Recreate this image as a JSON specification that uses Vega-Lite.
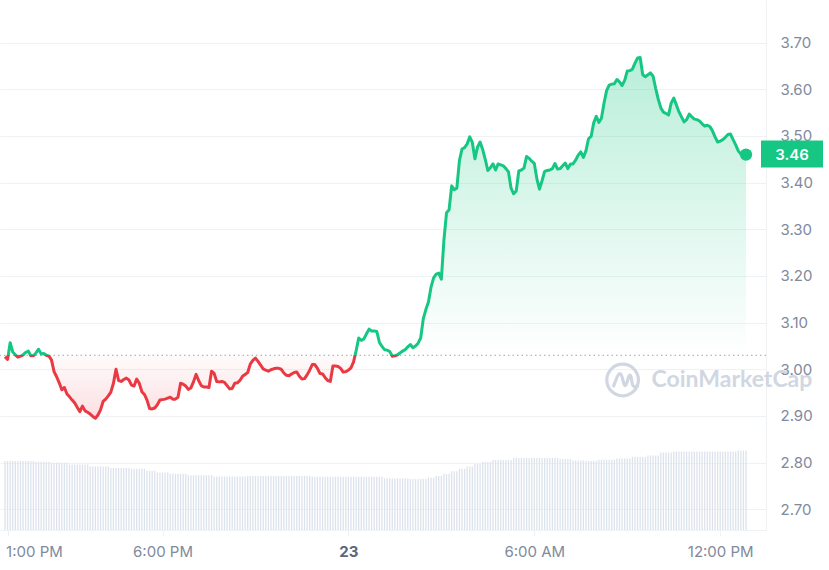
{
"$schema":"https://vega.github.io/schema/vega-lite/v6.json",
"width":766,"height":530,"padding":{"left":0,"top":0,"right":63,"bottom":40},"autosize":{"type":"none"},
"background":"#ffffff",
"config":{"view":{"stroke":null},"font":"Inter"},
"datasets":{"d":[
{"t":"2024-01-22T12:55","p":3.027,"v":260},{"t":"2024-01-22T13:00","p":3.021,"v":260},{"t":"2024-01-22T13:05","p":3.057,"v":260},{"t":"2024-01-22T13:10","p":3.037,"v":260},{"t":"2024-01-22T13:15","p":3.031,"v":260},{"t":"2024-01-22T13:20","p":3.026,"v":260},{"t":"2024-01-22T13:25","p":3.028,"v":260},{"t":"2024-01-22T13:30","p":3.031,"v":260},{"t":"2024-01-22T13:35","p":3.036,"v":260},{"t":"2024-01-22T13:40","p":3.039,"v":260},{"t":"2024-01-22T13:45","p":3.029,"v":260},{"t":"2024-01-22T13:50","p":3.029,"v":260},
{"t":"2024-01-22T13:55","p":3.035,"v":258},{"t":"2024-01-22T14:00","p":3.043,"v":258},{"t":"2024-01-22T14:05","p":3.033,"v":258},{"t":"2024-01-22T14:10","p":3.034,"v":258},{"t":"2024-01-22T14:15","p":3.030,"v":258},{"t":"2024-01-22T14:20","p":3.028,"v":258},
{"t":"2024-01-22T14:25","p":3.020,"v":254},{"t":"2024-01-22T14:30","p":2.995,"v":254},{"t":"2024-01-22T14:35","p":2.984,"v":254},{"t":"2024-01-22T14:40","p":2.971,"v":254},{"t":"2024-01-22T14:45","p":2.956,"v":254},{"t":"2024-01-22T14:50","p":2.961,"v":254},{"t":"2024-01-22T14:55","p":2.947,"v":254},
{"t":"2024-01-22T15:00","p":2.941,"v":247},{"t":"2024-01-22T15:05","p":2.934,"v":247},{"t":"2024-01-22T15:10","p":2.928,"v":247},{"t":"2024-01-22T15:15","p":2.918,"v":247},{"t":"2024-01-22T15:20","p":2.909,"v":247},{"t":"2024-01-22T15:25","p":2.921,"v":247},{"t":"2024-01-22T15:30","p":2.911,"v":247},{"t":"2024-01-22T15:35","p":2.908,"v":247},
{"t":"2024-01-22T15:40","p":2.904,"v":240},{"t":"2024-01-22T15:45","p":2.899,"v":240},{"t":"2024-01-22T15:50","p":2.895,"v":240},{"t":"2024-01-22T15:55","p":2.902,"v":240},{"t":"2024-01-22T16:00","p":2.913,"v":240},{"t":"2024-01-22T16:05","p":2.931,"v":240},{"t":"2024-01-22T16:10","p":2.936,"v":240},{"t":"2024-01-22T16:15","p":2.943,"v":240},
{"t":"2024-01-22T16:20","p":2.951,"v":234},{"t":"2024-01-22T16:25","p":2.970,"v":234},{"t":"2024-01-22T16:30","p":3.000,"v":234},{"t":"2024-01-22T16:35","p":2.976,"v":234},{"t":"2024-01-22T16:40","p":2.974,"v":234},{"t":"2024-01-22T16:45","p":2.978,"v":234},{"t":"2024-01-22T16:50","p":2.981,"v":234},{"t":"2024-01-22T16:55","p":2.977,"v":234},
{"t":"2024-01-22T17:00","p":2.966,"v":231},{"t":"2024-01-22T17:05","p":2.964,"v":231},{"t":"2024-01-22T17:10","p":2.979,"v":231},{"t":"2024-01-22T17:15","p":2.970,"v":231},{"t":"2024-01-22T17:20","p":2.952,"v":231},{"t":"2024-01-22T17:25","p":2.946,"v":231},
{"t":"2024-01-22T17:30","p":2.934,"v":224},{"t":"2024-01-22T17:35","p":2.916,"v":224},{"t":"2024-01-22T17:40","p":2.915,"v":224},{"t":"2024-01-22T17:45","p":2.917,"v":224},
{"t":"2024-01-22T17:50","p":2.924,"v":217},{"t":"2024-01-22T17:55","p":2.934,"v":217},{"t":"2024-01-22T18:00","p":2.935,"v":217},{"t":"2024-01-22T18:05","p":2.936,"v":217},{"t":"2024-01-22T18:10","p":2.938,"v":217},
{"t":"2024-01-22T18:15","p":2.940,"v":212},{"t":"2024-01-22T18:20","p":2.936,"v":212},{"t":"2024-01-22T18:25","p":2.936,"v":212},{"t":"2024-01-22T18:30","p":2.940,"v":212},{"t":"2024-01-22T18:35","p":2.970,"v":212},{"t":"2024-01-22T18:40","p":2.968,"v":212},{"t":"2024-01-22T18:45","p":2.964,"v":212},
{"t":"2024-01-22T18:50","p":2.957,"v":207},{"t":"2024-01-22T18:55","p":2.960,"v":207},{"t":"2024-01-22T19:00","p":2.973,"v":207},{"t":"2024-01-22T19:05","p":2.989,"v":207},{"t":"2024-01-22T19:10","p":2.976,"v":207},{"t":"2024-01-22T19:15","p":2.965,"v":207},{"t":"2024-01-22T19:20","p":2.962,"v":207},{"t":"2024-01-22T19:25","p":2.962,"v":207},{"t":"2024-01-22T19:30","p":2.961,"v":207},{"t":"2024-01-22T19:35","p":2.996,"v":207},
{"t":"2024-01-22T19:40","p":2.991,"v":202},{"t":"2024-01-22T19:45","p":2.974,"v":202},{"t":"2024-01-22T19:50","p":2.973,"v":202},{"t":"2024-01-22T19:55","p":2.974,"v":202},{"t":"2024-01-22T20:00","p":2.972,"v":202},{"t":"2024-01-22T20:05","p":2.965,"v":202},{"t":"2024-01-22T20:10","p":2.958,"v":202},{"t":"2024-01-22T20:15","p":2.959,"v":202},{"t":"2024-01-22T20:20","p":2.970,"v":202},{"t":"2024-01-22T20:25","p":2.971,"v":202},{"t":"2024-01-22T20:30","p":2.976,"v":202},{"t":"2024-01-22T20:35","p":2.985,"v":202},{"t":"2024-01-22T20:40","p":2.989,"v":202},
{"t":"2024-01-22T20:45","p":2.993,"v":204},{"t":"2024-01-22T20:50","p":3.011,"v":204},{"t":"2024-01-22T20:55","p":3.019,"v":204},{"t":"2024-01-22T21:00","p":3.024,"v":204},{"t":"2024-01-22T21:05","p":3.017,"v":204},{"t":"2024-01-22T21:10","p":3.009,"v":204},{"t":"2024-01-22T21:15","p":3.001,"v":204},{"t":"2024-01-22T21:20","p":2.998,"v":204},{"t":"2024-01-22T21:25","p":2.996,"v":204},{"t":"2024-01-22T21:30","p":2.999,"v":204},{"t":"2024-01-22T21:35","p":3.001,"v":204},{"t":"2024-01-22T21:40","p":3.002,"v":204},{"t":"2024-01-22T21:45","p":3.002,"v":204},{"t":"2024-01-22T21:50","p":3.000,"v":204},{"t":"2024-01-22T21:55","p":2.992,"v":204},{"t":"2024-01-22T22:00","p":2.987,"v":204},{"t":"2024-01-22T22:05","p":2.986,"v":204},{"t":"2024-01-22T22:10","p":2.990,"v":204},{"t":"2024-01-22T22:15","p":2.993,"v":204},{"t":"2024-01-22T22:20","p":2.994,"v":204},{"t":"2024-01-22T22:25","p":2.985,"v":204},{"t":"2024-01-22T22:30","p":2.979,"v":204},{"t":"2024-01-22T22:35","p":2.980,"v":204},{"t":"2024-01-22T22:40","p":2.988,"v":204},{"t":"2024-01-22T22:45","p":2.998,"v":204},
{"t":"2024-01-22T22:50","p":3.010,"v":201},{"t":"2024-01-22T22:55","p":3.010,"v":201},{"t":"2024-01-22T23:00","p":3.002,"v":201},{"t":"2024-01-22T23:05","p":2.991,"v":201},{"t":"2024-01-22T23:10","p":2.990,"v":201},{"t":"2024-01-22T23:15","p":2.982,"v":201},{"t":"2024-01-22T23:20","p":2.976,"v":201},{"t":"2024-01-22T23:25","p":2.974,"v":201},{"t":"2024-01-22T23:30","p":3.007,"v":201},{"t":"2024-01-22T23:35","p":3.007,"v":201},{"t":"2024-01-22T23:40","p":3.006,"v":201},{"t":"2024-01-22T23:45","p":3.002,"v":201},{"t":"2024-01-22T23:50","p":2.994,"v":201},{"t":"2024-01-22T23:55","p":2.995,"v":201},
{"t":"2024-01-23T00:00","p":2.998,"v":201},{"t":"2024-01-23T00:05","p":3.003,"v":201},{"t":"2024-01-23T00:10","p":3.016,"v":201},{"t":"2024-01-23T00:15","p":3.040,"v":201},{"t":"2024-01-23T00:20","p":3.067,"v":201},{"t":"2024-01-23T00:25","p":3.062,"v":201},{"t":"2024-01-23T00:30","p":3.065,"v":201},{"t":"2024-01-23T00:35","p":3.076,"v":201},{"t":"2024-01-23T00:40","p":3.086,"v":201},{"t":"2024-01-23T00:45","p":3.082,"v":201},{"t":"2024-01-23T00:50","p":3.082,"v":201},{"t":"2024-01-23T00:55","p":3.081,"v":201},{"t":"2024-01-23T01:00","p":3.058,"v":201},{"t":"2024-01-23T01:05","p":3.049,"v":201},
{"t":"2024-01-23T01:10","p":3.042,"v":195},{"t":"2024-01-23T01:15","p":3.041,"v":195},{"t":"2024-01-23T01:20","p":3.038,"v":195},{"t":"2024-01-23T01:25","p":3.028,"v":195},{"t":"2024-01-23T01:30","p":3.029,"v":195},{"t":"2024-01-23T01:35","p":3.031,"v":195},{"t":"2024-01-23T01:40","p":3.035,"v":195},{"t":"2024-01-23T01:45","p":3.039,"v":195},{"t":"2024-01-23T01:50","p":3.042,"v":195},{"t":"2024-01-23T01:55","p":3.048,"v":195},
{"t":"2024-01-23T02:00","p":3.053,"v":192},{"t":"2024-01-23T02:05","p":3.046,"v":192},{"t":"2024-01-23T02:10","p":3.050,"v":192},{"t":"2024-01-23T02:15","p":3.056,"v":192},{"t":"2024-01-23T02:20","p":3.067,"v":192},{"t":"2024-01-23T02:25","p":3.108,"v":192},{"t":"2024-01-23T02:30","p":3.128,"v":192},
{"t":"2024-01-23T02:35","p":3.144,"v":197},{"t":"2024-01-23T02:40","p":3.176,"v":197},{"t":"2024-01-23T02:45","p":3.196,"v":197},
{"t":"2024-01-23T02:50","p":3.204,"v":204},{"t":"2024-01-23T02:55","p":3.206,"v":204},{"t":"2024-01-23T03:00","p":3.193,"v":204},
{"t":"2024-01-23T03:05","p":3.277,"v":212},{"t":"2024-01-23T03:10","p":3.335,"v":212},{"t":"2024-01-23T03:15","p":3.342,"v":212},
{"t":"2024-01-23T03:20","p":3.393,"v":222},{"t":"2024-01-23T03:25","p":3.385,"v":222},{"t":"2024-01-23T03:30","p":3.388,"v":222},
{"t":"2024-01-23T03:35","p":3.447,"v":231},{"t":"2024-01-23T03:40","p":3.472,"v":231},{"t":"2024-01-23T03:45","p":3.475,"v":231},
{"t":"2024-01-23T03:50","p":3.483,"v":240},{"t":"2024-01-23T03:55","p":3.498,"v":240},{"t":"2024-01-23T04:00","p":3.486,"v":240},
{"t":"2024-01-23T04:05","p":3.451,"v":249},{"t":"2024-01-23T04:10","p":3.476,"v":249},{"t":"2024-01-23T04:15","p":3.487,"v":249},
{"t":"2024-01-23T04:20","p":3.471,"v":257},{"t":"2024-01-23T04:25","p":3.450,"v":257},{"t":"2024-01-23T04:30","p":3.426,"v":257},{"t":"2024-01-23T04:35","p":3.432,"v":257},
{"t":"2024-01-23T04:40","p":3.440,"v":264},{"t":"2024-01-23T04:45","p":3.427,"v":264},{"t":"2024-01-23T04:50","p":3.440,"v":264},{"t":"2024-01-23T04:55","p":3.438,"v":264},{"t":"2024-01-23T05:00","p":3.436,"v":264},{"t":"2024-01-23T05:05","p":3.430,"v":264},{"t":"2024-01-23T05:10","p":3.423,"v":264},{"t":"2024-01-23T05:15","p":3.388,"v":264},
{"t":"2024-01-23T05:20","p":3.376,"v":272},{"t":"2024-01-23T05:25","p":3.382,"v":272},{"t":"2024-01-23T05:30","p":3.425,"v":272},{"t":"2024-01-23T05:35","p":3.427,"v":272},{"t":"2024-01-23T05:40","p":3.431,"v":272},{"t":"2024-01-23T05:45","p":3.456,"v":272},{"t":"2024-01-23T05:50","p":3.452,"v":272},{"t":"2024-01-23T05:55","p":3.446,"v":272},{"t":"2024-01-23T06:00","p":3.441,"v":272},{"t":"2024-01-23T06:05","p":3.408,"v":272},{"t":"2024-01-23T06:10","p":3.386,"v":272},{"t":"2024-01-23T06:15","p":3.404,"v":272},{"t":"2024-01-23T06:20","p":3.424,"v":272},{"t":"2024-01-23T06:25","p":3.426,"v":272},{"t":"2024-01-23T06:30","p":3.427,"v":272},{"t":"2024-01-23T06:35","p":3.430,"v":272},{"t":"2024-01-23T06:40","p":3.441,"v":272},{"t":"2024-01-23T06:45","p":3.429,"v":272},
{"t":"2024-01-23T06:50","p":3.430,"v":268},{"t":"2024-01-23T06:55","p":3.436,"v":268},{"t":"2024-01-23T07:00","p":3.442,"v":268},{"t":"2024-01-23T07:05","p":3.430,"v":268},{"t":"2024-01-23T07:10","p":3.440,"v":268},
{"t":"2024-01-23T07:15","p":3.440,"v":262},{"t":"2024-01-23T07:20","p":3.448,"v":262},{"t":"2024-01-23T07:25","p":3.459,"v":262},{"t":"2024-01-23T07:30","p":3.466,"v":262},{"t":"2024-01-23T07:35","p":3.454,"v":262},
{"t":"2024-01-23T07:40","p":3.468,"v":260},{"t":"2024-01-23T07:45","p":3.494,"v":260},{"t":"2024-01-23T07:50","p":3.499,"v":260},{"t":"2024-01-23T07:55","p":3.528,"v":260},{"t":"2024-01-23T08:00","p":3.542,"v":260},
{"t":"2024-01-23T08:05","p":3.529,"v":265},{"t":"2024-01-23T08:10","p":3.538,"v":265},{"t":"2024-01-23T08:15","p":3.570,"v":265},{"t":"2024-01-23T08:20","p":3.597,"v":265},{"t":"2024-01-23T08:25","p":3.609,"v":265},{"t":"2024-01-23T08:30","p":3.611,"v":265},{"t":"2024-01-23T08:35","p":3.612,"v":265},
{"t":"2024-01-23T08:40","p":3.621,"v":270},{"t":"2024-01-23T08:45","p":3.616,"v":270},{"t":"2024-01-23T08:50","p":3.608,"v":270},{"t":"2024-01-23T08:55","p":3.619,"v":270},{"t":"2024-01-23T09:00","p":3.639,"v":270},{"t":"2024-01-23T09:05","p":3.640,"v":270},
{"t":"2024-01-23T09:10","p":3.643,"v":276},{"t":"2024-01-23T09:15","p":3.656,"v":276},{"t":"2024-01-23T09:20","p":3.667,"v":276},{"t":"2024-01-23T09:25","p":3.668,"v":276},{"t":"2024-01-23T09:30","p":3.631,"v":276},{"t":"2024-01-23T09:35","p":3.627,"v":276},
{"t":"2024-01-23T09:40","p":3.631,"v":281},{"t":"2024-01-23T09:45","p":3.635,"v":281},{"t":"2024-01-23T09:50","p":3.628,"v":281},{"t":"2024-01-23T09:55","p":3.602,"v":281},{"t":"2024-01-23T10:00","p":3.579,"v":281},
{"t":"2024-01-23T10:05","p":3.560,"v":292},{"t":"2024-01-23T10:10","p":3.551,"v":292},{"t":"2024-01-23T10:15","p":3.548,"v":292},{"t":"2024-01-23T10:20","p":3.545,"v":292},{"t":"2024-01-23T10:25","p":3.570,"v":292},
{"t":"2024-01-23T10:30","p":3.581,"v":296},{"t":"2024-01-23T10:35","p":3.567,"v":296},{"t":"2024-01-23T10:40","p":3.552,"v":296},{"t":"2024-01-23T10:45","p":3.541,"v":296},{"t":"2024-01-23T10:50","p":3.530,"v":296},{"t":"2024-01-23T10:55","p":3.535,"v":296},{"t":"2024-01-23T11:00","p":3.547,"v":296},{"t":"2024-01-23T11:05","p":3.541,"v":296},{"t":"2024-01-23T11:10","p":3.536,"v":296},{"t":"2024-01-23T11:15","p":3.535,"v":296},{"t":"2024-01-23T11:20","p":3.532,"v":296},{"t":"2024-01-23T11:25","p":3.526,"v":296},{"t":"2024-01-23T11:30","p":3.521,"v":296},{"t":"2024-01-23T11:35","p":3.523,"v":296},{"t":"2024-01-23T11:40","p":3.520,"v":296},{"t":"2024-01-23T11:45","p":3.511,"v":296},{"t":"2024-01-23T11:50","p":3.498,"v":296},{"t":"2024-01-23T11:55","p":3.487,"v":296},{"t":"2024-01-23T12:00","p":3.489,"v":296},{"t":"2024-01-23T12:05","p":3.492,"v":296},{"t":"2024-01-23T12:10","p":3.497,"v":296},{"t":"2024-01-23T12:15","p":3.503,"v":296},{"t":"2024-01-23T12:20","p":3.504,"v":296},{"t":"2024-01-23T12:25","p":3.492,"v":296},{"t":"2024-01-23T12:30","p":3.481,"v":296},
{"t":"2024-01-23T12:35","p":3.468,"v":300},{"t":"2024-01-23T12:40","p":3.461,"v":300},{"t":"2024-01-23T12:45","p":3.462,"v":300},{"t":"2024-01-23T12:50","p":3.460,"v":300}
],
"last":[{"t":"2024-01-23T12:50","p":3.46,"label":"3.46"}],
"mark":[{"t":"2024-01-23T08:51","t2":"2024-01-23T09:47","p":2.977,"name":"CoinMarketCap"}]
},
"layer":[
{"data":{"name":"d"},
 "mark":{"type":"bar","width":1.3,"color":"#dde3ec"},
 "encoding":{
  "x":{"field":"t","type":"temporal","title":null,
   "scale":{"domain":[{"year":2024,"month":1,"date":22,"hours":12,"minutes":55},{"year":2024,"month":1,"date":23,"hours":13,"minutes":19}]},
   "axis":{"values":[{"year":2024,"month":1,"date":22,"hours":13},{"year":2024,"month":1,"date":22,"hours":18},{"year":2024,"month":1,"date":23,"hours":0},{"year":2024,"month":1,"date":23,"hours":6},{"year":2024,"month":1,"date":23,"hours":12}],
    "labelExpr":"hours(datum.value) == 0 ? timeFormat(datum.value, '%-d') : timeFormat(datum.value, '%-I:%M %p')",
    "labelAlign":{"condition":{"test":"hours(datum.value) == 13","value":"left"},"value":"center"},
    "labelOffset":{"condition":{"test":"hours(datum.value) == 13","value":-2},"value":0},
    "grid":false,"domain":true,"domainColor":"#eff2f5","ticks":true,"tickColor":"#eff2f5","tickSize":6,
    "labelFont":"Inter","labelFontSize":15,"labelPadding":8,
    "labelColor":{"condition":{"test":"hours(datum.value) == 0","value":"#58667e"},"value":"#808a9d"},
    "labelFontWeight":{"condition":{"test":"hours(datum.value) == 0","value":700},"value":400}}},
  "y":{"field":"v","type":"quantitative","scale":{"domain":[0,2000]},"axis":null}}},
{"layer":[
 {"data":{"name":"d"},
  "mark":{"type":"area","fill":{"gradient":"linear","x1":0,"y1":0,"x2":0,"y2":1,"stops":[{"offset":0,"color":"rgba(22,199,132,0.30)"},{"offset":0.8254,"color":"rgba(22,199,132,0.0)"},{"offset":0.8254,"color":"rgba(234,57,67,0.02)"},{"offset":1,"color":"rgba(234,57,67,0.16)"}]}},
  "encoding":{
   "x":{"field":"t","type":"temporal"},
   "y":{"field":"p","type":"quantitative","title":null,"scale":{"domain":[2.6556,3.7913],"nice":false,"zero":false},
    "axis":{"orient":"right","values":[2.7,2.8,2.9,3.0,3.1,3.2,3.3,3.4,3.5,3.6,3.7],"format":".2f","grid":true,"gridColor":"#eff2f5","ticks":false,"domain":true,"domainColor":"#eff2f5","labelPadding":14,"labelFont":"Inter","labelFontSize":15,"labelColor":"#808a9d"}},
   "y2":{"datum":3.03}}},
 {"data":{"values":[{}]},
  "mark":{"type":"rule","strokeDash":[1.5,3],"color":"#9aa3b2","strokeWidth":1},
  "encoding":{"y":{"datum":3.03}}},
 {"data":{"name":"d"},
  "mark":{"type":"line","strokeWidth":3,"strokeJoin":"round","stroke":{"gradient":"linear","x1":0,"y1":0,"x2":0,"y2":1,"stops":[{"offset":0,"color":"#16c784"},{"offset":0.8254,"color":"#16c784"},{"offset":0.8254,"color":"#ea3943"},{"offset":1,"color":"#ea3943"}]}},
  "encoding":{"x":{"field":"t","type":"temporal"},"y":{"field":"p","type":"quantitative"}}},
 {"data":{"name":"last"},
  "mark":{"type":"point","filled":true,"color":"#16c784","size":150,"opacity":1},
  "encoding":{"x":{"field":"t","type":"temporal"},"y":{"field":"p","type":"quantitative"}}},
 {"data":{"name":"last"},
  "mark":{"type":"rect","color":"#16c784","x2Offset":62,"yOffset":-14,"y2Offset":13},
  "encoding":{"x":{"datum":{"year":2024,"month":1,"date":23,"hours":13,"minutes":19},"type":"temporal"},"x2":{"datum":{"year":2024,"month":1,"date":23,"hours":13,"minutes":19}},"y":{"field":"p","type":"quantitative"},"y2":{"field":"p"}}},
 {"data":{"name":"last"},
  "mark":{"type":"text","color":"#ffffff","font":"Inter","fontSize":15,"fontWeight":600,"align":"center","baseline":"middle","dx":31},
  "encoding":{"x":{"datum":{"year":2024,"month":1,"date":23,"hours":13,"minutes":19},"type":"temporal"},"y":{"field":"p","type":"quantitative"},"text":{"field":"label"}}},
 {"data":{"name":"mark"},
  "mark":{"type":"point","shape":"circle","filled":false,"color":"#d1d7e2","strokeWidth":3.2,"size":1000,"opacity":1},
  "encoding":{"x":{"field":"t","type":"temporal"},"y":{"field":"p","type":"quantitative"}}},
 {"data":{"name":"mark"},
  "mark":{"type":"point","shape":"M -0.6 0.45 C -0.45 0.1 -0.3 -0.45 -0.15 -0.4 C 0 -0.35 0.05 0.35 0.15 0.35 C 0.3 0.35 0.35 -0.35 0.48 -0.3 C 0.6 -0.25 0.55 0.35 0.7 0.4 C 0.8 0.45 0.9 0.4 0.98 0.3","filled":false,"color":"#d1d7e2","strokeWidth":3.2,"size":1000,"opacity":1},
  "encoding":{"x":{"field":"t","type":"temporal"},"y":{"field":"p","type":"quantitative"}}},
 {"data":{"name":"mark"},
  "mark":{"type":"text","color":"#d1d7e2","font":"Lato","fontSize":23,"fontWeight":700,"align":"left","baseline":"middle"},
  "encoding":{"x":{"field":"t2","type":"temporal"},"y":{"field":"p","type":"quantitative"},"text":{"field":"name"}}}
]}
],
"resolve":{"scale":{"y":"independent"}}
}
